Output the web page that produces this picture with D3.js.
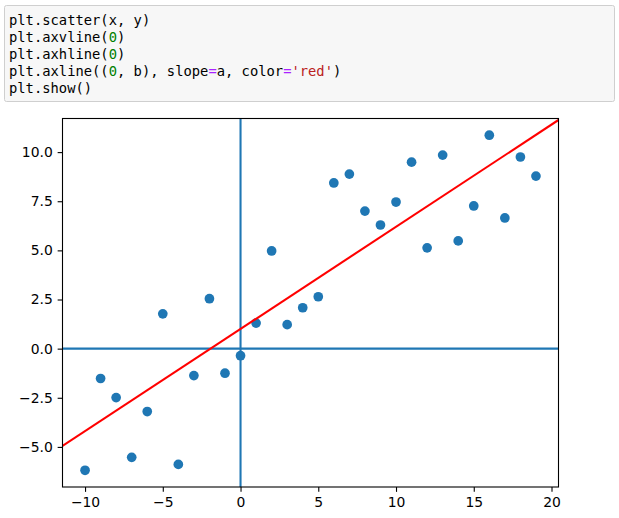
<!DOCTYPE html>
<html>
<head>
<meta charset="utf-8">
<script src="https://cdn.jsdelivr.net/npm/d3@7"></script>
<style>
  body { margin: 0; background: #fff; }
  svg { display: block; }
</style>
</head>
<body>
<svg id="chart" width="619" height="518"></svg>
<script>
// data
const xs = [-10, -9, -8, -7, -6, -5, -4, -3, -2, -1, 0, 1, 2, 3, 4,
            5, 6, 7, 8, 9, 10, 11, 12, 13, 14, 15, 16, 17, 18, 19];
const ys = [-6.19, -1.52, -2.49, -5.53, -3.20, 1.77, -5.89, -1.37, 2.54, -1.25, -0.36, 1.30, 4.97, 1.22, 2.08,
            2.64, 8.43, 8.88, 7.00, 6.29, 7.46, 9.49, 5.13, 9.85, 5.48, 7.26, 10.86, 6.65, 9.75, 8.78];
const slopeA = 0.52;
const interceptB = 1.0;
const xTicks = [-10, -5, 0, 5, 10, 15, 20];
const yTicks = [-5.0, -2.5, 0.0, 2.5, 5.0, 7.5, 10.0];

const codeLines = [
  [["plt.scatter(x, y)", "#000"]],
  [["plt.axvline(", "#000"], ["0", "#008000"], [")", "#000"]],
  [["plt.axhline(", "#000"], ["0", "#008000"], [")", "#000"]],
  [["plt.axline((", "#000"], ["0", "#008000"], [", b), slope", "#000"], ["=", "#aa22ff"],
   ["a, color", "#000"], ["=", "#aa22ff"], ["'red'", "#ba2121"], [")", "#000"]],
  [["plt.show()", "#000"]]
];

const svg = d3.select("#chart");

// code cell on top
svg.append("rect")
   .attr("x", 4.5).attr("y", 5.5)
   .attr("width", 610).attr("height", 96)
   .attr("rx", 2)
   .attr("fill", "#f7f7f7")
   .attr("stroke", "#cfcfcf");

const code = svg.append("text")
   .attr("font-family", "DejaVu Sans Mono, monospace")
   .attr("font-size", 13.8)
   .attr("xml:space", "preserve");

codeLines.forEach((parts, i) => {
  const line = code.append("tspan").attr("x", 9).attr("y", 24.5 + i * 17);
  parts.forEach(p => {
    line.append("tspan").attr("fill", p[1]).text(p[0]);
  });
});

// plot area
const margin = { top: 118.5, right: 60.5, bottom: 31, left: 62.5 };
const width = 619 - margin.left - margin.right;
const height = 518 - margin.top - margin.bottom;

const g = svg.append("g")
   .attr("transform", "translate(" + margin.left + "," + margin.top + ")");

const x = d3.scaleLinear().domain([-11.45, 20.45]).range([0, width]);
const y = d3.scaleLinear().domain([-7.04, 11.71]).range([height, 0]);

g.append("clipPath").attr("id", "clip")
 .append("rect").attr("width", width).attr("height", height);

const blue = "#1f77b4";

// scatter points
g.append("g")
 .selectAll("circle")
 .data(xs.map((v, i) => ({ x: v, y: ys[i] })))
 .enter().append("circle")
 .attr("cx", d => x(d.x))
 .attr("cy", d => y(d.y))
 .attr("r", 4.85)
 .attr("fill", blue);

const lines = g.append("g").attr("clip-path", "url(#clip)");

// axvline / axhline at 0
lines.append("line")
 .attr("x1", x(0)).attr("x2", x(0))
 .attr("y1", 0).attr("y2", height)
 .attr("stroke", blue).attr("stroke-width", 2.08);

lines.append("line")
 .attr("x1", 0).attr("x2", width)
 .attr("y1", y(0)).attr("y2", y(0))
 .attr("stroke", blue).attr("stroke-width", 2.08);

// axline through (0, b) with slope a
const [x0, x1] = x.domain();
lines.append("line")
 .attr("x1", x(x0)).attr("y1", y(interceptB + slopeA * x0))
 .attr("x2", x(x1)).attr("y2", y(interceptB + slopeA * x1))
 .attr("stroke", "#ff0000").attr("stroke-width", 2.08);

// axes
const fmtY = d3.format(".1f");

const xAxis = g.append("g")
 .attr("transform", "translate(0," + height + ")")
 .call(d3.axisBottom(x).tickValues(xTicks).tickSize(4.86).tickPadding(4.86).tickSizeOuter(0));

const yAxis = g.append("g")
 .call(d3.axisLeft(y).tickValues(yTicks).tickFormat(fmtY).tickSize(4.86).tickPadding(4.86).tickSizeOuter(0));

[xAxis, yAxis].forEach(ax => {
  ax.select(".domain").remove();
  ax.selectAll(".tick line").attr("stroke", "#000").attr("stroke-width", 1.1);
  ax.selectAll(".tick text")
    .attr("fill", "#000")
    .attr("font-family", "DejaVu Sans, sans-serif")
    .attr("font-size", 13.9);
});

// frame
g.append("rect")
 .attr("width", width).attr("height", height)
 .attr("fill", "none")
 .attr("stroke", "#000")
 .attr("stroke-width", 1.1);
</script>
</body>
</html>
